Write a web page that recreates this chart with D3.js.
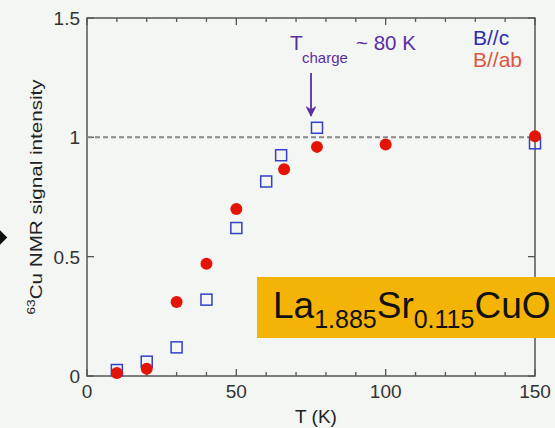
<!DOCTYPE html>
<html>
<head>
<meta charset="utf-8">
<script src="https://cdn.jsdelivr.net/npm/d3@7"></script>
<style>
  html, body { margin: 0; padding: 0; background: #f3f6f3; overflow: hidden; }
  svg { display: block; font-family: "Liberation Sans", Arial, sans-serif; }
</style>
</head>
<body>
<div id="chart"></div>
<script>
// Data
const tempAb = [10, 20, 30, 40, 50, 66, 77, 100, 150];
const valAb = [0.013, 0.03, 0.31, 0.47, 0.70, 0.866, 0.96, 0.97, 1.005];
const tempC = [10, 20, 30, 40, 50, 60, 65, 77, 150];
const valC = [0.025, 0.06, 0.12, 0.32, 0.62, 0.815, 0.925, 1.04, 0.975];
const xTicks = [0, 50, 100, 150];
const yTicks = [0, 0.5, 1, 1.5];
const yTickLabels = ['0', '0.5', '1', '1.5'];

const width = 555, height = 428;
const margin = {top: 18, right: 20, bottom: 52, left: 87};

const svg = d3.select('#chart')
  .append('svg')
  .attr('width', width)
  .attr('height', height);

svg.append('rect')
  .attr('width', width)
  .attr('height', height)
  .attr('fill', '#f3f6f3');

const x = d3.scaleLinear().domain([0, 150]).range([margin.left, width - margin.right]);
const y = d3.scaleLinear().domain([0, 1.5]).range([height - margin.bottom, margin.top]);

const axisColor = '#555';
const x0 = x(0), x1 = x(150), y0 = y(0), y1 = y(1.5);

// Frame
svg.append('rect')
  .attr('x', x0).attr('y', y1)
  .attr('width', x1 - x0).attr('height', y0 - y1)
  .attr('fill', 'none')
  .attr('stroke', axisColor)
  .attr('stroke-width', 1.5);

// Inward ticks on all four sides
const minorX = d3.range(0, 151, 10);
const g = svg.append('g').attr('stroke', axisColor).attr('stroke-width', 1.3);
minorX.forEach((t) => {
  const len = t % 50 === 0 ? 7 : 4;
  g.append('line').attr('x1', x(t)).attr('x2', x(t)).attr('y1', y0).attr('y2', y0 - len);
  g.append('line').attr('x1', x(t)).attr('x2', x(t)).attr('y1', y1).attr('y2', y1 + len);
});
yTicks.forEach((t) => {
  g.append('line').attr('x1', x0).attr('x2', x0 + 7).attr('y1', y(t)).attr('y2', y(t));
  g.append('line').attr('x1', x1).attr('x2', x1 - 7).attr('y1', y(t)).attr('y2', y(t));
});

// Tick labels
svg.selectAll('.xlab')
  .data(xTicks)
  .enter().append('text')
  .attr('class', 'xlab')
  .attr('x', (d) => x(d))
  .attr('y', y0 + 22)
  .attr('text-anchor', 'middle')
  .attr('font-size', 19)
  .attr('fill', '#333')
  .text((d) => d);

svg.selectAll('.ylab')
  .data(yTicks)
  .enter().append('text')
  .attr('class', 'ylab')
  .attr('x', x0 - 7)
  .attr('y', (d) => y(d) + 7)
  .attr('text-anchor', 'end')
  .attr('font-size', 19)
  .attr('fill', '#333')
  .text((d, i) => yTickLabels[i]);

// Axis titles
svg.append('text')
  .attr('x', (x0 + x1) / 2 + 5)
  .attr('y', height - 5)
  .attr('text-anchor', 'middle')
  .attr('font-size', 19)
  .attr('fill', '#222')
  .text('T (K)');

// the original label is stretched along its length
const yTitle = svg.append('text')
  .attr('transform', 'translate(42,197) rotate(-90) scale(1.25,1)')
  .attr('text-anchor', 'middle')
  .attr('font-size', 16.5)
  .attr('fill', '#222');
yTitle.append('tspan').attr('font-size', 11).attr('dy', -7).text('63');
yTitle.append('tspan').attr('dy', 7).text('Cu NMR signal intensity');

// Dashed reference line at 1
svg.append('line')
  .attr('x1', x0).attr('x2', x1)
  .attr('y1', y(1)).attr('y2', y(1))
  .attr('stroke', '#888')
  .attr('stroke-width', 2)
  .attr('stroke-dasharray', '5,3');

// B//c : open squares
const sq = 11;
svg.selectAll('.sq')
  .data(tempC.map((t, i) => [t, valC[i]]))
  .enter().append('rect')
  .attr('class', 'sq')
  .attr('x', (d) => x(d[0]) - sq / 2)
  .attr('y', (d) => y(d[1]) - sq / 2)
  .attr('width', sq).attr('height', sq)
  .attr('fill', 'none')
  .attr('stroke', '#3340c8')
  .attr('stroke-width', 1.5);

// B//ab : filled circles
svg.selectAll('.dot')
  .data(tempAb.map((t, i) => [t, valAb[i]]))
  .enter().append('circle')
  .attr('class', 'dot')
  .attr('cx', (d) => x(d[0]))
  .attr('cy', (d) => y(d[1]))
  .attr('r', 6)
  .attr('fill', '#e31405');

// Legend
svg.append('text').attr('x', 473).attr('y', 45)
  .attr('font-size', 21).attr('fill', '#2a2eb4').text('B//c');
svg.append('text').attr('x', 473).attr('y', 67)
  .attr('font-size', 21).attr('fill', '#e0553e').text('B//ab');

// T_charge annotation
const purple = '#5b2ea3';
svg.append('defs').append('marker')
  .attr('id', 'arrow')
  .attr('viewBox', '0 0 10 10')
  .attr('refX', 9).attr('refY', 5)
  .attr('markerWidth', 6).attr('markerHeight', 6)
  .attr('orient', 'auto')
  .append('path')
  .attr('d', 'M0,0 L10,5 L0,10 L3,5 Z')
  .attr('fill', purple);

svg.append('line')
  .attr('x1', x(75)).attr('x2', x(75))
  .attr('y1', y(1.27)).attr('y2', y(1.09))
  .attr('stroke', purple)
  .attr('stroke-width', 1.8)
  .attr('marker-end', 'url(#arrow)');

svg.append('text').attr('x', 290).attr('y', 50)
  .attr('font-size', 21).attr('fill', purple).text('T');
svg.append('text').attr('x', 302).attr('y', 63)
  .attr('font-size', 15).attr('fill', purple).text('charge');
svg.append('text').attr('x', 356).attr('y', 50)
  .attr('font-size', 20.5).attr('fill', purple).text('~ 80 K');

// Compound label box (runs off the right edge as in the original)
svg.append('rect')
  .attr('x', 257).attr('y', 277)
  .attr('width', 320).attr('height', 61)
  .attr('fill', '#f4b406');

const formula = svg.append('text')
  .attr('x', 273).attr('y', 318)
  .attr('font-size', 37)
  .attr('fill', '#111');
formula.append('tspan').text('La');
formula.append('tspan').attr('font-size', 25).attr('dy', 10).text('1.885');
formula.append('tspan').attr('dy', -10).text('Sr');
formula.append('tspan').attr('font-size', 25).attr('dy', 10).text('0.115');
formula.append('tspan').attr('dy', -10).text('CuO');

// Cut-off bullet at the left edge
svg.append('rect')
  .attr('x', -6).attr('y', 232)
  .attr('width', 11).attr('height', 11)
  .attr('transform', 'rotate(45,-0.5,237.5)')
  .attr('fill', '#111');
</script>
</body>
</html>
